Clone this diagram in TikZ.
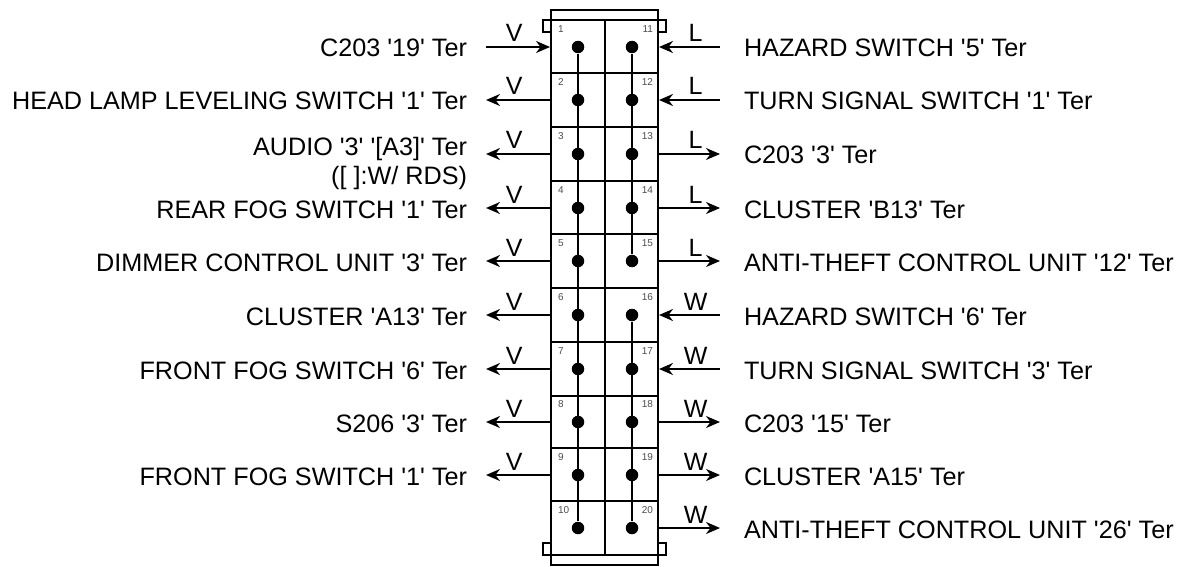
\documentclass[tikz,border=0pt]{standalone}
\usepackage{fontspec}
\usepackage{tikz}
\usetikzlibrary{arrows.meta,positioning}
\newfontfamily\wirefont{Liberation Sans}
\begin{document}
\begin{tikzpicture}[x=1pt,y=-1pt,font=\wirefont,line width=2pt,
  dot/.style={circle,fill=black,inner sep=0pt,minimum size=12.5pt},
  pinno/.style={font=\wirefont\fontsize{10}{10}\selectfont,text=black!70,inner sep=0pt},
  lefttext/.style={anchor=east,font=\wirefont\fontsize{25.2}{25.2}\selectfont,inner ysep=0pt,inner xsep=18pt,text height=20pt,text depth=0pt},
  righttext/.style={anchor=west,font=\wirefont\fontsize{25.2}{25.2}\selectfont,inner ysep=0pt,inner xsep=23pt,text height=20pt,text depth=0pt},
  wirename/.style={above,font=\wirefont\fontsize{25}{25}\selectfont,inner sep=0pt,yshift=4pt},
  wirein/.style={{Stealth[length=14pt,width=12pt]}-},
  wireout/.style={-{Stealth[length=14pt,width=12pt]}}]
  \useasboundingbox (0,0) rectangle (1183,567);
  \node [draw,inner sep=0pt,minimum width=107pt,minimum height=555pt] (body) at (604.5,287.5) {};
  \node [draw,inner sep=0pt,minimum width=8pt,minimum height=12pt] (tabtl) at (547,26) {};
  \node [draw,inner sep=0pt,minimum width=8pt,minimum height=12pt] (tabtr) at (662,26) {};
  \node [draw,inner sep=0pt,minimum width=8pt,minimum height=12pt] (tabbl) at (547,549) {};
  \node [draw,inner sep=0pt,minimum width=8pt,minimum height=12pt] (tabbr) at (662,549) {};
  \foreach \y in {20,73,127,181,234,288,342,396,448,501,555}
    \draw (body.west |- 0,\y) -- (body.east |- 0,\y);
  \draw (body.center |- 0,20) -- (body.center |- 0,555);
  \foreach \n/\y in {1/47,2/100,3/154,4/208,5/261,6/315,7/369,8/422,9/475,10/528} {
    \node [dot] (d\n) at (578,\y) {};
    \node [pinno,anchor=north west] (n\n) at (557,\y-22) {\n};
  }
  \foreach \n/\y in {11/47,12/100,13/154,14/208,15/261,16/315,17/369,18/422,19/475,20/528} {
    \node [dot] (d\n) at (632,\y) {};
    \node [pinno,anchor=north east] (n\n) at (654,\y-22) {\n};
  }
  \draw (d1) -- (d10);
  \draw (d11) -- (d15);
  \draw (d16) -- (d20);
  \foreach \n/\tip/\txt in {1/wirein/{C203 '19' Ter},
      2/wireout/{HEAD LAMP LEVELING SWITCH '1' Ter},
      4/wireout/{REAR FOG SWITCH '1' Ter},
      5/wireout/{DIMMER CONTROL UNIT '3' Ter},
      6/wireout/{CLUSTER 'A13' Ter},
      7/wireout/{FRONT FOG SWITCH '6' Ter},
      8/wireout/{S206 '3' Ter},
      9/wireout/{FRONT FOG SWITCH '1' Ter}} {
    \node [lefttext] (t\n) at (d\n -| 486,0) {\txt};
    \draw [\tip] (body.west |- d\n) -- node [wirename,pos=0.56] (w\n) {V} (t\n.east);
  }
  \coordinate (p3) at (d3 -| 486,0);
  \node [lefttext] (t3) at (486,146) {AUDIO '3' '[A3]' Ter};
  \node [below=6pt of t3.south east,lefttext,anchor=north east] (t3note) {([ ]:W/ RDS)};
  \draw [wireout] (body.west |- d3) -- node [wirename,pos=0.56] (w3) {V} (p3);
  \foreach \n/\tip/\col/\txt in {11/wirein/L/{HAZARD SWITCH '5' Ter},
      12/wirein/L/{TURN SIGNAL SWITCH '1' Ter},
      13/wireout/L/{C203 '3' Ter},
      14/wireout/L/{CLUSTER 'B13' Ter},
      15/wireout/L/{ANTI-THEFT CONTROL UNIT '12' Ter},
      16/wirein/W/{HAZARD SWITCH '6' Ter},
      17/wirein/W/{TURN SIGNAL SWITCH '3' Ter},
      18/wireout/W/{C203 '15' Ter},
      19/wireout/W/{CLUSTER 'A15' Ter},
      20/wireout/W/{ANTI-THEFT CONTROL UNIT '26' Ter}} {
    \node [righttext] (t\n) at (d\n -| 720,0) {\txt};
    \draw [\tip] (body.east |- d\n) -- node [wirename,pos=0.6] (w\n) {\col} (t\n.west);
  }
\end{tikzpicture}
\end{document}
